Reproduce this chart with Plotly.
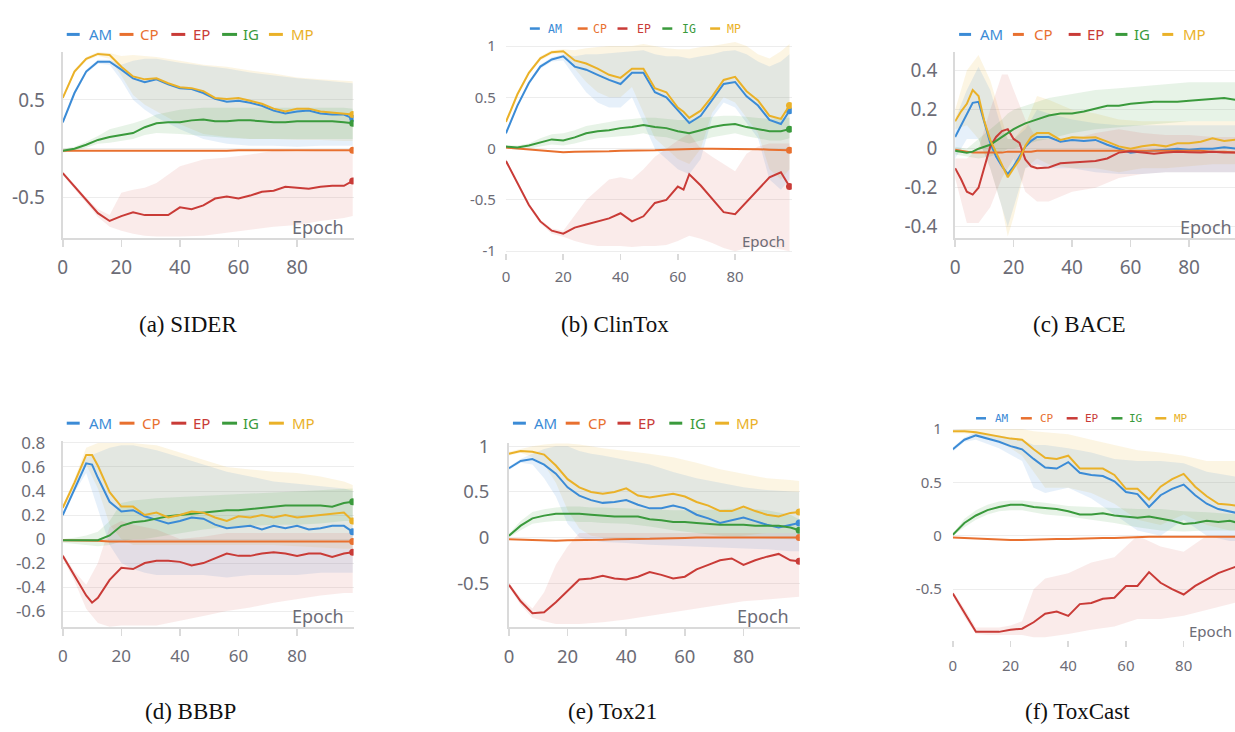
import plotly.graph_objects as go

W, H = 1235, 732

SERIES = ["AM", "CP", "EP", "IG", "MP"]
COLORS = {"AM": "#3b8bd6", "CP": "#e8702f", "EP": "#c93b37", "IG": "#3a9a3c", "MP": "#eab128"}
FILLS = {"AM": "rgba(59,139,214,0.13)", "EP": "rgba(214,70,66,0.11)",
         "IG": "rgba(58,154,60,0.12)", "MP": "rgba(234,177,40,0.13)"}
BAND_SERIES = ["MP", "AM", "IG", "EP"]

# ---------------- (a) SIDER ----------------
A_EPOCHS = [0, 4, 8, 12, 16, 20, 24, 28, 32, 36, 40, 44, 48, 52, 56, 60, 64, 68, 72, 76, 80, 84, 88, 92, 96, 99]
A_AM = [0.27, 0.57, 0.79, 0.89, 0.89, 0.81, 0.72, 0.68, 0.71, 0.66, 0.62, 0.61, 0.57, 0.51, 0.48, 0.49, 0.47, 0.44, 0.39, 0.36, 0.38, 0.39, 0.36, 0.35, 0.35, 0.31]
A_MP = [0.52, 0.79, 0.92, 0.97, 0.96, 0.84, 0.74, 0.71, 0.72, 0.67, 0.63, 0.62, 0.59, 0.52, 0.51, 0.52, 0.49, 0.46, 0.41, 0.38, 0.41, 0.41, 0.38, 0.37, 0.36, 0.35]
A_IG = [-0.02, 0.0, 0.04, 0.09, 0.12, 0.14, 0.16, 0.22, 0.26, 0.27, 0.27, 0.29, 0.30, 0.28, 0.28, 0.29, 0.29, 0.28, 0.27, 0.27, 0.28, 0.28, 0.28, 0.28, 0.27, 0.26]
A_CP = [-0.02, -0.02, -0.02, -0.025, -0.025, -0.025, -0.025, -0.025, -0.02, -0.02, -0.02, -0.02, -0.02, -0.02, -0.02, -0.015, -0.015, -0.015, -0.015, -0.015, -0.015, -0.015, -0.015, -0.015, -0.015, -0.017]
A_EP = [-0.25, -0.39, -0.53, -0.66, -0.74, -0.69, -0.65, -0.68, -0.68, -0.68, -0.60, -0.62, -0.58, -0.51, -0.49, -0.51, -0.48, -0.44, -0.43, -0.39, -0.40, -0.41, -0.39, -0.38, -0.38, -0.33]
A_BAND_EPOCHS = [0, 4, 8, 12, 16, 20, 24, 28, 32, 40, 48, 56, 64, 72, 80, 88, 96, 99]
A_AM_HI = [0.29, 0.59, 0.81, 0.91, 0.91, 0.86, 0.90, 0.92, 0.92, 0.88, 0.85, 0.82, 0.78, 0.75, 0.72, 0.70, 0.68, 0.67]
A_AM_LO = [0.25, 0.55, 0.77, 0.87, 0.86, 0.70, 0.50, 0.40, 0.32, 0.20, 0.10, 0.05, 0.03, 0.03, 0.02, 0.03, 0.03, 0.03]
A_MP_HI = [0.54, 0.81, 0.94, 0.99, 0.98, 0.95, 0.96, 0.95, 0.94, 0.90, 0.86, 0.84, 0.80, 0.77, 0.73, 0.71, 0.69, 0.69]
A_MP_LO = [0.50, 0.77, 0.90, 0.95, 0.92, 0.75, 0.55, 0.45, 0.38, 0.25, 0.15, 0.12, 0.10, 0.10, 0.09, 0.09, 0.08, 0.08]
A_IG_HI = [0.0, 0.02, 0.07, 0.13, 0.20, 0.23, 0.26, 0.30, 0.35, 0.40, 0.42, 0.42, 0.42, 0.42, 0.42, 0.42, 0.42, 0.41]
A_IG_LO = [-0.04, -0.02, 0.01, 0.05, 0.06, 0.08, 0.10, 0.14, 0.16, 0.15, 0.13, 0.11, 0.10, 0.10, 0.10, 0.10, 0.10, 0.10]
A_EP_HI = [-0.23, -0.37, -0.50, -0.62, -0.68, -0.45, -0.42, -0.40, -0.35, -0.18, -0.11, -0.09, -0.06, -0.02, -0.03, -0.02, -0.02, -0.02]
A_EP_LO = [-0.27, -0.41, -0.56, -0.70, -0.80, -0.84, -0.87, -0.89, -0.90, -0.90, -0.89, -0.86, -0.83, -0.80, -0.78, -0.74, -0.71, -0.69]

# ---------------- (b) ClinTox ----------------
B_EPOCHS = [0, 4, 8, 12, 16, 20, 24, 28, 32, 36, 40, 44, 48, 52, 56, 60, 62, 64, 68, 72, 76, 80, 84, 88, 92, 96, 99]
B_MP = [0.26, 0.53, 0.74, 0.88, 0.94, 0.95, 0.86, 0.83, 0.78, 0.72, 0.69, 0.78, 0.78, 0.59, 0.55, 0.40, 0.36, 0.30, 0.37, 0.51, 0.67, 0.70, 0.56, 0.47, 0.32, 0.29, 0.42]
B_AM = [0.15, 0.42, 0.64, 0.80, 0.87, 0.90, 0.80, 0.77, 0.72, 0.67, 0.63, 0.74, 0.74, 0.55, 0.50, 0.37, 0.31, 0.25, 0.32, 0.47, 0.63, 0.65, 0.51, 0.42, 0.28, 0.24, 0.37]
B_IG = [0.02, 0.01, 0.03, 0.06, 0.09, 0.08, 0.11, 0.15, 0.17, 0.18, 0.20, 0.21, 0.23, 0.21, 0.20, 0.17, 0.16, 0.15, 0.18, 0.21, 0.23, 0.24, 0.21, 0.19, 0.17, 0.17, 0.19]
B_CP = [0.01, 0.0, -0.01, -0.02, -0.03, -0.035, -0.03, -0.03, -0.03, -0.025, -0.02, -0.02, -0.02, -0.015, -0.01, -0.005, -0.005, 0.0, 0.0, 0.0, 0.0, 0.0, -0.005, -0.005, -0.01, -0.01, -0.015]
B_EP = [-0.12, -0.33, -0.55, -0.71, -0.80, -0.83, -0.77, -0.74, -0.71, -0.68, -0.63, -0.71, -0.66, -0.53, -0.50, -0.37, -0.40, -0.25, -0.36, -0.49, -0.62, -0.64, -0.52, -0.41, -0.28, -0.23, -0.37]
B_BAND_EPOCHS = [0, 4, 8, 12, 16, 20, 24, 28, 32, 36, 40, 44, 48, 52, 56, 60, 64, 68, 72, 76, 80, 84, 88, 92, 96, 99]
B_MP_HI = [0.28, 0.55, 0.76, 0.90, 0.96, 0.97, 0.96, 0.98, 0.99, 1.0, 1.0, 1.0, 1.02, 1.0, 0.98, 0.97, 0.97, 0.99, 1.0, 1.02, 1.04, 1.0, 0.92, 0.88, 0.95, 1.02]
B_MP_LO = [0.24, 0.51, 0.72, 0.86, 0.92, 0.92, 0.78, 0.65, 0.55, 0.50, 0.50, 0.60, 0.35, 0.10, 0.0, -0.10, -0.15, 0.0, 0.35, 0.50, 0.45, 0.30, 0.15, -0.20, -0.30, -0.20]
B_AM_HI = [0.17, 0.44, 0.66, 0.82, 0.89, 0.92, 0.90, 0.92, 0.92, 0.93, 0.94, 0.95, 0.96, 0.92, 0.90, 0.90, 0.88, 0.90, 0.92, 0.95, 0.96, 0.92, 0.85, 0.80, 0.85, 0.92]
B_AM_LO = [0.13, 0.40, 0.62, 0.78, 0.85, 0.86, 0.70, 0.55, 0.45, 0.40, 0.40, 0.50, 0.25, 0.0, -0.10, -0.20, -0.25, -0.10, 0.30, 0.45, 0.40, 0.25, 0.10, -0.30, -0.40, -0.30]
B_IG_HI = [0.03, 0.03, 0.05, 0.10, 0.14, 0.15, 0.18, 0.22, 0.24, 0.26, 0.28, 0.29, 0.30, 0.30, 0.29, 0.28, 0.28, 0.30, 0.31, 0.32, 0.32, 0.31, 0.30, 0.29, 0.30, 0.30]
B_IG_LO = [0.0, -0.01, 0.0, 0.02, 0.04, 0.03, 0.05, 0.08, 0.10, 0.11, 0.12, 0.13, 0.15, 0.12, 0.11, 0.08, 0.05, 0.08, 0.11, 0.13, 0.15, 0.12, 0.10, 0.08, 0.08, 0.10]
B_EP_HI = [-0.10, -0.31, -0.53, -0.69, -0.78, -0.80, -0.65, -0.50, -0.40, -0.30, -0.28, -0.30, -0.20, -0.08, 0.0, 0.08, 0.15, 0.0, -0.08, -0.15, -0.22, -0.05, 0.02, 0.05, 0.05, 0.05]
B_EP_LO = [-0.14, -0.35, -0.57, -0.73, -0.83, -0.86, -0.90, -0.93, -0.95, -0.95, -0.95, -0.96, -0.95, -0.95, -0.94, -0.90, -0.85, -0.88, -0.92, -0.97, -1.0, -0.97, -0.95, -0.96, -0.98, -1.0]

# ---------------- (c) BACE ----------------
C_EPOCHS = [0, 2, 4, 6, 8, 10, 12, 14, 16, 18, 20, 22, 24, 26, 28, 32, 36, 40, 44, 48, 52, 56, 60, 64, 68, 72, 76, 80, 84, 88, 92, 96, 99]
C_MP = [0.14, 0.19, 0.23, 0.30, 0.27, 0.14, 0.045, -0.02, -0.09, -0.146, -0.10, -0.055, 0.015, 0.06, 0.08, 0.08, 0.045, 0.058, 0.056, 0.058, 0.036, 0.012, 0.0, 0.012, 0.02, 0.012, 0.028, 0.028, 0.036, 0.053, 0.04, 0.045, 0.05]
C_AM = [0.06, 0.12, 0.18, 0.235, 0.24, 0.13, 0.03, -0.04, -0.09, -0.13, -0.09, -0.04, 0.01, 0.04, 0.06, 0.06, 0.036, 0.045, 0.04, 0.045, 0.02, 0.0, -0.02, -0.013, -0.01, -0.005, 0.0, -0.005, 0.0, 0.0, 0.008, 0.0, 0.0]
C_IG = [-0.01, -0.015, -0.02, -0.015, 0.0, 0.01, 0.02, 0.04, 0.06, 0.08, 0.10, 0.115, 0.13, 0.14, 0.15, 0.17, 0.18, 0.18, 0.19, 0.205, 0.22, 0.22, 0.23, 0.235, 0.24, 0.24, 0.24, 0.245, 0.25, 0.255, 0.26, 0.25, 0.245]
C_CP = [-0.005, -0.01, -0.015, -0.02, -0.02, -0.02, -0.02, -0.02, -0.02, -0.015, -0.015, -0.015, -0.015, -0.015, -0.01, -0.01, -0.01, -0.01, -0.01, -0.01, -0.01, -0.01, -0.01, -0.01, -0.01, -0.01, -0.01, -0.01, -0.01, -0.015, -0.015, -0.02, -0.02]
C_EP = [-0.10, -0.155, -0.22, -0.235, -0.20, -0.09, 0.01, 0.06, 0.09, 0.10, 0.05, 0.03, -0.055, -0.09, -0.10, -0.096, -0.075, -0.07, -0.066, -0.063, -0.05, -0.02, -0.013, -0.02, -0.026, -0.02, -0.015, -0.018, -0.02, -0.015, -0.02, -0.02, -0.025]
C_BAND_EPOCHS = [0, 4, 8, 12, 16, 18, 20, 24, 28, 32, 40, 48, 56, 64, 72, 80, 88, 99]
C_MP_HI = [0.20, 0.40, 0.48, 0.35, 0.15, 0.05, 0.05, 0.12, 0.27, 0.25, 0.20, 0.18, 0.15, 0.14, 0.14, 0.14, 0.14, 0.14]
C_MP_LO = [0.10, 0.12, 0.05, -0.10, -0.30, -0.45, -0.35, -0.10, -0.05, -0.08, -0.10, -0.10, -0.12, -0.10, -0.10, -0.09, -0.08, -0.08]
C_AM_HI = [0.15, 0.30, 0.42, 0.30, 0.10, 0.05, 0.05, 0.10, 0.20, 0.18, 0.15, 0.13, 0.12, 0.12, 0.12, 0.12, 0.12, 0.12]
C_AM_LO = [-0.05, 0.05, 0.05, -0.10, -0.30, -0.40, -0.30, -0.10, -0.08, -0.10, -0.10, -0.12, -0.13, -0.13, -0.12, -0.12, -0.12, -0.12]
C_IG_HI = [0.01, 0.0, 0.05, 0.10, 0.15, 0.18, 0.20, 0.22, 0.24, 0.26, 0.28, 0.30, 0.31, 0.32, 0.33, 0.34, 0.34, 0.34]
C_IG_LO = [-0.03, -0.04, -0.05, -0.04, -0.02, 0.0, 0.0, 0.02, 0.04, 0.05, 0.08, 0.10, 0.11, 0.12, 0.13, 0.14, 0.14, 0.14]
C_EP_HI = [-0.05, -0.05, 0.0, 0.20, 0.38, 0.38, 0.30, 0.15, 0.05, 0.05, 0.05, 0.08, 0.10, 0.08, 0.07, 0.07, 0.06, 0.06]
C_EP_LO = [-0.15, -0.38, -0.38, -0.30, -0.15, -0.10, -0.05, -0.22, -0.27, -0.27, -0.22, -0.20, -0.15, -0.13, -0.12, -0.12, -0.12, -0.12]

# ---------------- (d) BBBP ----------------
D_EPOCHS = [0, 4, 8, 10, 12, 16, 20, 24, 28, 32, 36, 40, 44, 48, 52, 56, 60, 64, 68, 72, 76, 80, 84, 88, 92, 96, 99]
D_AM = [0.20, 0.42, 0.63, 0.62, 0.51, 0.31, 0.23, 0.24, 0.19, 0.16, 0.13, 0.15, 0.18, 0.17, 0.12, 0.09, 0.10, 0.11, 0.08, 0.11, 0.09, 0.11, 0.08, 0.09, 0.11, 0.11, 0.06]
D_MP = [0.26, 0.47, 0.70, 0.70, 0.61, 0.39, 0.27, 0.27, 0.20, 0.22, 0.18, 0.20, 0.23, 0.22, 0.18, 0.15, 0.19, 0.18, 0.20, 0.18, 0.20, 0.18, 0.19, 0.20, 0.21, 0.22, 0.15]
D_IG = [-0.01, -0.01, -0.01, -0.01, -0.01, 0.03, 0.11, 0.14, 0.15, 0.17, 0.19, 0.20, 0.21, 0.22, 0.23, 0.24, 0.24, 0.25, 0.26, 0.27, 0.28, 0.28, 0.28, 0.28, 0.27, 0.30, 0.31]
D_CP = [-0.01, -0.01, -0.015, -0.015, -0.015, -0.02, -0.02, -0.02, -0.02, -0.02, -0.02, -0.02, -0.02, -0.02, -0.02, -0.02, -0.02, -0.02, -0.02, -0.02, -0.02, -0.02, -0.02, -0.02, -0.02, -0.02, -0.02]
D_EP = [-0.14, -0.31, -0.47, -0.53, -0.49, -0.34, -0.24, -0.25, -0.20, -0.18, -0.18, -0.19, -0.22, -0.20, -0.16, -0.12, -0.14, -0.14, -0.12, -0.11, -0.12, -0.14, -0.12, -0.12, -0.15, -0.12, -0.11]
D_BAND_EPOCHS = [0, 4, 8, 12, 16, 20, 24, 28, 32, 40, 48, 56, 64, 72, 80, 88, 96, 99]
D_AM_HI = [0.22, 0.45, 0.68, 0.72, 0.76, 0.78, 0.78, 0.76, 0.74, 0.68, 0.62, 0.56, 0.52, 0.48, 0.46, 0.44, 0.42, 0.40]
D_AM_LO = [0.18, 0.39, 0.55, 0.25, -0.05, -0.20, -0.25, -0.28, -0.30, -0.30, -0.30, -0.32, -0.30, -0.30, -0.30, -0.28, -0.28, -0.28]
D_MP_HI = [0.28, 0.50, 0.76, 0.80, 0.80, 0.80, 0.80, 0.79, 0.78, 0.72, 0.66, 0.60, 0.58, 0.56, 0.55, 0.52, 0.48, 0.45]
D_MP_LO = [0.24, 0.44, 0.62, 0.42, 0.12, 0.0, -0.05, -0.05, -0.05, -0.05, -0.05, -0.05, -0.05, -0.05, -0.06, -0.07, -0.08, -0.08]
D_IG_HI = [0.0, 0.01, 0.03, 0.06, 0.15, 0.30, 0.32, 0.33, 0.34, 0.35, 0.36, 0.37, 0.38, 0.39, 0.40, 0.41, 0.42, 0.42]
D_IG_LO = [-0.03, -0.04, -0.05, -0.06, -0.05, -0.02, 0.0, 0.0, 0.02, 0.05, 0.08, 0.10, 0.11, 0.12, 0.12, 0.13, 0.15, 0.15]
D_EP_HI = [-0.12, -0.27, -0.38, -0.20, 0.10, 0.15, 0.12, 0.10, 0.08, 0.0, 0.02, 0.05, 0.05, 0.05, 0.05, 0.05, 0.05, 0.05]
D_EP_LO = [-0.16, -0.35, -0.58, -0.70, -0.73, -0.72, -0.72, -0.72, -0.72, -0.68, -0.64, -0.60, -0.57, -0.53, -0.50, -0.47, -0.45, -0.45]

# ---------------- (e) Tox21 ----------------
E_EPOCHS = [0, 4, 8, 12, 16, 20, 24, 28, 32, 36, 40, 44, 48, 52, 56, 60, 64, 68, 72, 76, 80, 84, 88, 92, 96, 99]
E_MP = [0.92, 0.95, 0.94, 0.91, 0.79, 0.64, 0.55, 0.50, 0.48, 0.50, 0.54, 0.46, 0.44, 0.46, 0.48, 0.45, 0.39, 0.35, 0.29, 0.29, 0.34, 0.29, 0.25, 0.23, 0.27, 0.28]
E_AM = [0.76, 0.84, 0.86, 0.80, 0.70, 0.55, 0.46, 0.41, 0.38, 0.39, 0.41, 0.36, 0.32, 0.32, 0.35, 0.32, 0.25, 0.21, 0.16, 0.19, 0.22, 0.18, 0.14, 0.11, 0.14, 0.16]
E_IG = [0.02, 0.13, 0.21, 0.24, 0.26, 0.26, 0.26, 0.25, 0.24, 0.23, 0.23, 0.23, 0.20, 0.19, 0.17, 0.17, 0.16, 0.15, 0.14, 0.14, 0.14, 0.13, 0.13, 0.13, 0.11, 0.08]
E_CP = [-0.02, -0.025, -0.03, -0.035, -0.035, -0.03, -0.03, -0.025, -0.025, -0.02, -0.02, -0.015, -0.015, -0.01, -0.01, -0.005, 0.0, 0.0, 0.0, 0.0, 0.0, 0.0, 0.0, 0.0, 0.0, 0.0]
E_EP = [-0.52, -0.70, -0.83, -0.82, -0.71, -0.59, -0.46, -0.45, -0.42, -0.45, -0.46, -0.43, -0.38, -0.41, -0.45, -0.43, -0.35, -0.30, -0.25, -0.23, -0.30, -0.25, -0.21, -0.18, -0.25, -0.26]
E_BAND_EPOCHS = [0, 4, 8, 12, 16, 20, 24, 28, 32, 40, 48, 56, 64, 72, 80, 88, 96, 99]
E_MP_HI = [0.94, 0.97, 1.0, 1.02, 1.03, 1.03, 1.02, 1.0, 0.98, 0.95, 0.92, 0.88, 0.82, 0.75, 0.70, 0.65, 0.63, 0.62]
E_MP_LO = [0.90, 0.93, 0.88, 0.80, 0.60, 0.30, 0.10, 0.02, 0.0, -0.02, 0.0, 0.0, 0.0, 0.0, 0.02, 0.05, 0.05, 0.05]
E_AM_HI = [0.78, 0.86, 0.92, 0.97, 1.0, 1.0, 0.95, 0.92, 0.90, 0.85, 0.80, 0.72, 0.65, 0.60, 0.55, 0.52, 0.50, 0.50]
E_AM_LO = [0.74, 0.82, 0.80, 0.65, 0.45, 0.15, 0.0, -0.03, -0.05, -0.06, -0.08, -0.09, -0.10, -0.11, -0.12, -0.13, -0.15, -0.15]
E_IG_HI = [0.04, 0.18, 0.28, 0.31, 0.33, 0.34, 0.34, 0.33, 0.33, 0.32, 0.31, 0.30, 0.30, 0.31, 0.32, 0.30, 0.25, 0.20]
E_IG_LO = [0.0, 0.08, 0.15, 0.17, 0.18, 0.18, 0.17, 0.17, 0.16, 0.15, 0.12, 0.08, 0.05, 0.02, 0.0, -0.01, -0.02, -0.02]
E_EP_HI = [-0.50, -0.66, -0.78, -0.60, -0.30, -0.10, 0.05, 0.05, 0.05, 0.05, 0.05, 0.05, 0.05, 0.05, 0.05, 0.05, 0.05, 0.05]
E_EP_LO = [-0.54, -0.74, -0.88, -0.92, -0.95, -0.95, -0.95, -0.94, -0.93, -0.90, -0.86, -0.82, -0.78, -0.74, -0.70, -0.68, -0.66, -0.65]

# ---------------- (f) ToxCast ----------------
F_EPOCHS = [0, 4, 8, 12, 16, 20, 24, 28, 32, 36, 40, 44, 48, 52, 56, 60, 64, 68, 72, 76, 80, 84, 88, 92, 96, 99]
F_MP = [0.98, 0.98, 0.97, 0.95, 0.93, 0.91, 0.90, 0.81, 0.73, 0.72, 0.75, 0.63, 0.63, 0.63, 0.57, 0.44, 0.44, 0.34, 0.46, 0.53, 0.58, 0.46, 0.37, 0.30, 0.29, 0.28]
F_AM = [0.81, 0.90, 0.94, 0.91, 0.88, 0.84, 0.81, 0.72, 0.64, 0.63, 0.69, 0.59, 0.57, 0.56, 0.51, 0.41, 0.39, 0.27, 0.38, 0.44, 0.48, 0.38, 0.30, 0.25, 0.23, 0.21]
F_IG = [0.01, 0.12, 0.19, 0.24, 0.27, 0.29, 0.29, 0.27, 0.26, 0.25, 0.23, 0.20, 0.20, 0.21, 0.19, 0.18, 0.17, 0.18, 0.16, 0.14, 0.11, 0.12, 0.14, 0.13, 0.14, 0.12]
F_CP = [-0.015, -0.02, -0.03, -0.035, -0.035, -0.04, -0.04, -0.035, -0.035, -0.03, -0.03, -0.025, -0.025, -0.02, -0.02, -0.015, -0.015, -0.01, -0.01, -0.01, -0.01, -0.01, -0.01, -0.01, -0.01, -0.01]
F_EP = [-0.54, -0.72, -0.90, -0.90, -0.90, -0.88, -0.87, -0.81, -0.73, -0.71, -0.75, -0.64, -0.63, -0.59, -0.58, -0.47, -0.47, -0.34, -0.44, -0.50, -0.55, -0.47, -0.41, -0.35, -0.31, -0.28]
F_BAND_EPOCHS = [0, 4, 8, 12, 16, 20, 24, 28, 32, 40, 48, 56, 64, 72, 80, 88, 96, 99]
F_MP_HI = [0.99, 1.0, 1.0, 1.0, 1.0, 1.0, 1.0, 0.98, 0.97, 0.95, 0.90, 0.85, 0.80, 0.78, 0.75, 0.70, 0.70, 0.70]
F_MP_LO = [0.96, 0.96, 0.94, 0.92, 0.88, 0.82, 0.75, 0.60, 0.45, 0.45, 0.40, 0.30, 0.15, 0.10, 0.20, 0.10, 0.05, 0.05]
F_AM_HI = [0.83, 0.92, 0.97, 0.95, 0.94, 0.92, 0.90, 0.85, 0.85, 0.82, 0.78, 0.72, 0.70, 0.70, 0.68, 0.60, 0.56, 0.55]
F_AM_LO = [0.79, 0.88, 0.90, 0.86, 0.82, 0.76, 0.70, 0.45, 0.40, 0.45, 0.35, 0.20, 0.05, 0.0, 0.15, 0.0, -0.05, -0.05]
F_IG_HI = [0.02, 0.16, 0.24, 0.29, 0.32, 0.33, 0.33, 0.32, 0.31, 0.28, 0.27, 0.26, 0.25, 0.25, 0.23, 0.22, 0.21, 0.20]
F_IG_LO = [0.0, 0.08, 0.15, 0.20, 0.23, 0.24, 0.24, 0.22, 0.20, 0.18, 0.15, 0.12, 0.08, 0.05, 0.04, 0.05, 0.05, 0.05]
F_EP_HI = [-0.52, -0.68, -0.86, -0.86, -0.86, -0.84, -0.80, -0.50, -0.40, -0.35, -0.25, -0.20, 0.0, -0.10, -0.15, 0.0, 0.0, 0.0]
F_EP_LO = [-0.56, -0.76, -0.92, -0.93, -0.93, -0.93, -0.93, -0.95, -0.95, -0.92, -0.88, -0.85, -0.78, -0.78, -0.75, -0.70, -0.64, -0.62]

X_TICKS = [0, 20, 40, 60, 80]
A_YTICKS = [-0.5, 0, 0.5]; A_YLABELS = ["-0.5", "0", "0.5"]
B_YTICKS = [-1, -0.5, 0, 0.5, 1]; B_YLABELS = ["-1", "-0.5", "0", "0.5", "1"]
C_YTICKS = [-0.4, -0.2, 0, 0.2, 0.4]; C_YLABELS = ["-0.4", "-0.2", "0", "0.2", "0.4"]
D_YTICKS = [-0.6, -0.4, -0.2, 0, 0.2, 0.4, 0.6, 0.8]; D_YLABELS = ["-0.6", "-0.4", "-0.2", "0", "0.2", "0.4", "0.6", "0.8"]
E_YTICKS = [-0.5, 0, 0.5, 1]; E_YLABELS = ["-0.5", "0", "0.5", "1"]
F_YTICKS = [-0.5, 0, 0.5, 1]; F_YLABELS = ["-0.5", "0", "0.5", "1"]

CAPTIONS = ["(a) SIDER", "(b) ClinTox", "(c) BACE", "(d) BBBP", "(e) Tox21", "(f) ToxCast"]
X_TITLE = "Epoch"

PANELS = [
    dict(ep=A_EPOCHS, lines=dict(AM=A_AM, CP=A_CP, EP=A_EP, IG=A_IG, MP=A_MP), bep=A_BAND_EPOCHS,
         bands=dict(AM=(A_AM_HI, A_AM_LO), MP=(A_MP_HI, A_MP_LO), IG=(A_IG_HI, A_IG_LO), EP=(A_EP_HI, A_EP_LO)),
         yt=A_YTICKS, yl=A_YLABELS),
    dict(ep=B_EPOCHS, lines=dict(AM=B_AM, CP=B_CP, EP=B_EP, IG=B_IG, MP=B_MP), bep=B_BAND_EPOCHS,
         bands=dict(AM=(B_AM_HI, B_AM_LO), MP=(B_MP_HI, B_MP_LO), IG=(B_IG_HI, B_IG_LO), EP=(B_EP_HI, B_EP_LO)),
         yt=B_YTICKS, yl=B_YLABELS),
    dict(ep=C_EPOCHS, lines=dict(AM=C_AM, CP=C_CP, EP=C_EP, IG=C_IG, MP=C_MP), bep=C_BAND_EPOCHS,
         bands=dict(AM=(C_AM_HI, C_AM_LO), MP=(C_MP_HI, C_MP_LO), IG=(C_IG_HI, C_IG_LO), EP=(C_EP_HI, C_EP_LO)),
         yt=C_YTICKS, yl=C_YLABELS),
    dict(ep=D_EPOCHS, lines=dict(AM=D_AM, CP=D_CP, EP=D_EP, IG=D_IG, MP=D_MP), bep=D_BAND_EPOCHS,
         bands=dict(AM=(D_AM_HI, D_AM_LO), MP=(D_MP_HI, D_MP_LO), IG=(D_IG_HI, D_IG_LO), EP=(D_EP_HI, D_EP_LO)),
         yt=D_YTICKS, yl=D_YLABELS),
    dict(ep=E_EPOCHS, lines=dict(AM=E_AM, CP=E_CP, EP=E_EP, IG=E_IG, MP=E_MP), bep=E_BAND_EPOCHS,
         bands=dict(AM=(E_AM_HI, E_AM_LO), MP=(E_MP_HI, E_MP_LO), IG=(E_IG_HI, E_IG_LO), EP=(E_EP_HI, E_EP_LO)),
         yt=E_YTICKS, yl=E_YLABELS),
    dict(ep=F_EPOCHS, lines=dict(AM=F_AM, CP=F_CP, EP=F_EP, IG=F_IG, MP=F_MP), bep=F_BAND_EPOCHS,
         bands=dict(AM=(F_AM_HI, F_AM_LO), MP=(F_MP_HI, F_MP_LO), IG=(F_IG_HI, F_IG_LO), EP=(F_EP_HI, F_EP_LO)),
         yt=F_YTICKS, yl=F_YLABELS),
]

# ---- layout geometry (pixels) ----
LAYOUT = [
    dict(xd=(58, 350), xr=(0, 99.3), yd=(43, 233), yr=(-0.91, 0.99), big=True, tf=19, ystand=12, xstand=5,
         leg_y=25, dashes=[(62, 75), (115, 129), (167, 181), (218, 233), (265, 279)], texts=[82, 134, 187, 237, 285],
         lf=("Noto Sans", 15), ep=(342, 222, "right", 18), cap=(184, 322)),
    dict(xd=(503, 790), xr=(0, 99.8), yd=(29.6, 249), yr=(-1.02, 1.07), big=False, tf=15, ystand=9, xstand=4,
         leg_y=19, dashes=[(527, 537), (575, 585), (615, 625), (660, 670), (708, 718)], texts=[543, 588, 633, 678, 723],
         lf=("DejaVu Sans Mono", 11.5), ep=(785, 237, "right", 15), cap=(612, 322)),
    dict(xd=(954, 1235), xr=(0, 95.7), yd=(43, 233), yr=(-0.455, 0.495), big=True, tf=19, ystand=12, xstand=5,
         leg_y=25, dashes=[(958, 970), (1012, 1023), (1068, 1080), (1115, 1127), (1162, 1173)], texts=[977, 1031, 1084, 1132, 1181],
         lf=("Noto Sans", 15), ep=(1234, 222, "right", 18), cap=(1079, 322)),
    dict(xd=(58, 350), xr=(0, 99.3), yd=(440.8, 632), yr=(-0.735, 0.82), big=True, tf=17, ystand=12, xstand=5,
         leg_y=423, dashes=[(62, 75), (115, 130), (167, 182), (218, 233), (265, 280)], texts=[82, 136, 187, 237, 286],
         lf=("Noto Sans", 15), ep=(342, 620, "right", 18), cap=(186, 718)),
    dict(xd=(506, 798), xr=(0, 99.2), yd=(443, 631.5), yr=(-0.98, 1.04), big=True, tf=18.5, ystand=14, xstand=5,
         leg_y=423, dashes=[(510, 523), (563, 577), (615, 628), (667, 680), (713, 727)], texts=[529, 583, 634, 686, 732],
         lf=("Noto Sans", 15), ep=(789, 620, "right", 18), cap=(610, 718)),
    dict(xd=(951.7, 1235), xr=(0, 97.8), yd=(424.6, 645.4), yr=(-0.98, 1.04), big=False, tf=15, ystand=10, xstand=6,
         leg_y=418, dashes=[(975, 985), (1020, 1031), (1066, 1077), (1111, 1122), (1155, 1166)], texts=[992, 1037, 1082, 1127, 1172],
         lf=("DejaVu Sans Mono", 11), ep=(1234, 636, "right", 15), cap=(1077, 718)),
]

TICK_COLOR = "#6c6c76"
AXIS_COLOR = "#dadada"
GRID_COLOR = "#ededed"


def fx(p):
    return p / W


def fy(p):
    return 1 - p / H


fig = go.Figure()
annotations = []
shapes = []
layout_axes = {}

for i, (pd_, lay) in enumerate(zip(PANELS, LAYOUT)):
    n = "" if i == 0 else str(i + 1)
    xa, ya = "x" + n, "y" + n
    for s in BAND_SERIES:
        hi, lo = pd_["bands"][s]
        fig.add_trace(go.Scatter(
            x=list(pd_["bep"]) + list(pd_["bep"])[::-1], y=list(hi) + list(lo)[::-1],
            fill="toself", fillcolor=FILLS[s], line=dict(width=0), mode="lines",
            hoverinfo="skip", showlegend=False, xaxis=xa, yaxis=ya))
    for s in SERIES:
        vals = pd_["lines"][s]
        fig.add_trace(go.Scatter(x=pd_["ep"], y=vals, mode="lines", name=s,
                                 line=dict(color=COLORS[s], width=2), showlegend=False,
                                 xaxis=xa, yaxis=ya))
        fig.add_trace(go.Scatter(x=[pd_["ep"][-1]], y=[vals[-1]], mode="markers",
                                 marker=dict(color=COLORS[s], size=7), showlegend=False,
                                 hoverinfo="skip", xaxis=xa, yaxis=ya))
    big = lay["big"]
    layout_axes["xaxis" + n] = dict(
        domain=[fx(lay["xd"][0]), fx(lay["xd"][1])], range=list(lay["xr"]), anchor=ya,
        tickvals=X_TICKS, showgrid=False, zeroline=False,
        showline=big, linecolor=AXIS_COLOR, linewidth=2,
        ticks="outside", ticklen=7 if big else 6, tickcolor=AXIS_COLOR, tickwidth=1.5,
        tickfont=dict(family="Noto Sans", size=lay["tf"], color=TICK_COLOR),
        ticklabelstandoff=lay["xstand"], fixedrange=True)
    layout_axes["yaxis" + n] = dict(
        domain=[fy(lay["yd"][1]), fy(lay["yd"][0])], range=list(lay["yr"]), anchor=xa,
        tickvals=pd_["yt"], ticktext=pd_["yl"], showgrid=True, gridcolor=GRID_COLOR, gridwidth=1,
        zeroline=False, showline=big, linecolor=AXIS_COLOR, linewidth=2, ticks="",
        tickfont=dict(family="Noto Sans", size=lay["tf"], color=TICK_COLOR),
        ticklabelstandoff=lay["ystand"], fixedrange=True)
    fam, fs = lay["lf"]
    for s, (d0, d1), tx in zip(SERIES, lay["dashes"], lay["texts"]):
        shapes.append(dict(type="line", xref="paper", yref="paper", x0=fx(d0), x1=fx(d1),
                           y0=fy(lay["leg_y"]), y1=fy(lay["leg_y"]),
                           line=dict(color=COLORS[s], width=3 if big else 2.5)))
        annotations.append(dict(text=s, xref="paper", yref="paper", x=fx(tx), y=fy(lay["leg_y"]),
                                xanchor="left", yanchor="middle", showarrow=False,
                                font=dict(family=fam, size=fs, color=COLORS[s])))
    ex, ey, anc, efs = lay["ep"]
    annotations.append(dict(text=X_TITLE, xref="paper", yref="paper", x=fx(ex), y=fy(ey),
                            xanchor=anc, yanchor="middle", showarrow=False,
                            font=dict(family="Noto Sans", size=efs, color=TICK_COLOR)))
    cx, cy = lay["cap"]
    annotations.append(dict(text=CAPTIONS[i], xref="paper", yref="paper", x=fx(cx), y=fy(cy),
                            xanchor="center", yanchor="middle", showarrow=False,
                            font=dict(family="Liberation Serif", size=23, color="#111111")))

fig.update_layout(
    width=W, height=H, margin=dict(l=0, r=0, t=0, b=0),
    paper_bgcolor="white", plot_bgcolor="white", showlegend=False,
    annotations=annotations, shapes=shapes, **layout_axes)

fig.write_html("out.html", config={"displayModeBar": False, "staticPlot": True},
               post_script="document.body.style.margin='0px';")
